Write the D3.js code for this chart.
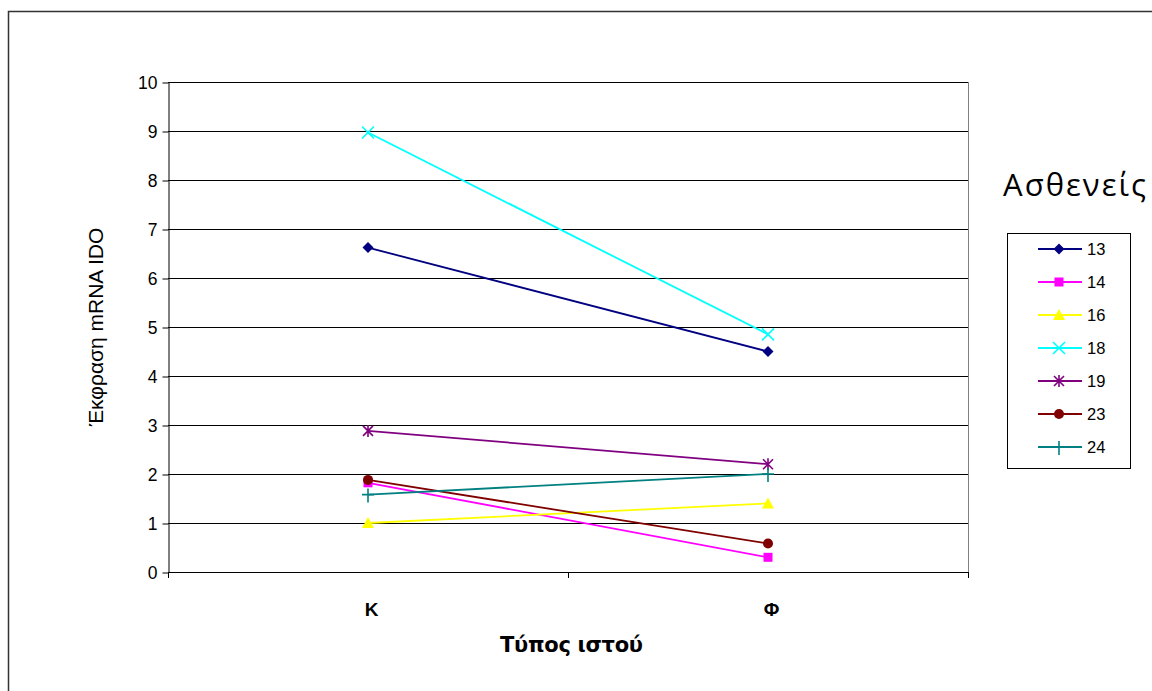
<!DOCTYPE html>
<html><head><meta charset="utf-8">
<script src="https://cdn.jsdelivr.net/npm/d3@7/dist/d3.min.js"></script>
<style>body{margin:0;background:#fff;}svg{display:block;}</style>
</head><body>
<svg id="c" width="1152" height="691"></svg>
<script>
const categories = ["Κ", "Φ"];
const seriesNames = ["13", "14", "16", "18", "19", "23", "24"];
const values13 = [6.62, 4.5];
const values14 = [1.82, 0.3];
const values16 = [1.0, 1.4];
const values18 = [8.97, 4.85];
const values19 = [2.88, 2.2];
const values23 = [1.88, 0.58];
const values24 = [1.58, 2.0];
const yTicks = [0,1,2,3,4,5,6,7,8,9,10];
const colors = ["#000080", "#ff00ff", "#ffff00", "#00ffff", "#800080", "#800000", "#008080"];
const markers = ["diamond", "square", "triangle", "x", "star", "circle", "plus"];
const allValues = [values13, values14, values16, values18, values19, values23, values24];

const svg = d3.select("#c");
// outer frame
svg.append("path").attr("d","M8.5,691 V11.5 H1152").attr("fill","none").attr("stroke","#333").attr("stroke-width",1.5);

const L=168, R=968, T=82, B=572;
const x = d3.scaleBand().domain(categories).range([L,R]);
const y = d3.scaleLinear().domain([0,10]).range([B,T]);

// gridlines
svg.append("g").selectAll("line").data(yTicks.filter(d=>d>0)).join("line")
  .attr("x1",L).attr("x2",R).attr("y1",d=>y(d)+0.5).attr("y2",d=>y(d)+0.5)
  .attr("stroke","#000").attr("stroke-width",1);
// right border of plot area
svg.append("line").attr("x1",R+0.5).attr("x2",R+0.5).attr("y1",T).attr("y2",B).attr("stroke","#808080");

// y axis
const ya = svg.append("g").attr("transform",`translate(${L+0.5},0.5)`)
  .call(d3.axisLeft(y).tickValues(yTicks).tickSize(6).tickPadding(5).tickSizeOuter(0));
ya.select(".domain").attr("stroke","#000");
ya.selectAll("text").attr("font-family","Liberation Sans, Arial, sans-serif").attr("font-size",17.5).attr("fill","#000");

// x axis
const xa = svg.append("g").attr("transform",`translate(0.5,${B+0.5})`)
  .call(d3.axisBottom(x).tickSize(0).tickPadding(30));
xa.select(".domain").attr("stroke","#000").attr("d",`M${L},0H${R}`);
xa.selectAll("text").attr("font-family","Liberation Sans, Arial, sans-serif").attr("font-size",19).attr("font-weight","bold").attr("fill","#000").attr("dx",3);
// x tick marks at band boundaries
svg.append("g").selectAll("line").data([0,1,2]).join("line")
  .attr("x1",i=>L+i*x.bandwidth()+0.5).attr("x2",i=>L+i*x.bandwidth()+0.5)
  .attr("y1",B).attr("y2",B+6).attr("stroke","#000");

// titles
svg.append("text").attr("transform",`translate(103,${(T+B)/2}) rotate(-90)`).attr("text-anchor","middle")
  .attr("font-family","Liberation Sans, Arial, sans-serif").attr("font-size",21).text("Έκφραση mRNA IDO");
svg.append("text").attr("x",500).attr("y",652)
  .attr("font-family","DejaVu Sans, sans-serif").attr("font-size",21).attr("font-weight","bold")
  .attr("textLength",143).attr("lengthAdjust","spacing").text("Τύπος ιστού");

function drawMarker(g, type, color, cx, cy){
  const s = g.append("g").attr("transform",`translate(${cx},${cy})`);
  if(type==="diamond") s.append("path").attr("d","M0,-5.5L5.5,0L0,5.5L-5.5,0Z").attr("fill",color);
  else if(type==="square") s.append("rect").attr("x",-4.5).attr("y",-4.5).attr("width",9).attr("height",9).attr("fill",color);
  else if(type==="triangle") s.append("path").attr("d","M0,-6L6,5L-6,5Z").attr("fill",color);
  else if(type==="circle") s.append("circle").attr("r",5).attr("fill",color);
  else if(type==="x") s.append("path").attr("d","M-6,-6L6,6M-6,6L6,-6").attr("stroke",color).attr("stroke-width",1.6);
  else if(type==="star") s.append("path").attr("d","M-5,-5L5,5M-5,5L5,-5M0,-6V6").attr("stroke",color).attr("stroke-width",1.6);
  else if(type==="plus") s.append("path").attr("d","M-6,0H6M0,-6V8").attr("stroke",color).attr("stroke-width",1.6);
}

const line = d3.line().x((d,i)=>x(categories[i])+x.bandwidth()/2).y(d=>y(d));
allValues.forEach((vals,k)=>{
  const g = svg.append("g");
  g.append("path").datum(vals).attr("d",line).attr("fill","none").attr("stroke",colors[k]).attr("stroke-width",1.8);
  vals.forEach((v,i)=>drawMarker(g, markers[k], colors[k], x(categories[i])+x.bandwidth()/2, y(v)));
});

// legend
svg.append("text").attr("x",1003).attr("y",196).attr("font-family","Open Sans, sans-serif").attr("font-size",31)
  .attr("textLength",143).attr("lengthAdjust","spacing").text("Ασθενείς");
svg.append("rect").attr("x",1007.5).attr("y",233.5).attr("width",123).attr("height",235).attr("fill","none").attr("stroke","#000");
seriesNames.forEach((n,k)=>{
  const yy = 249 + k*33;
  const g = svg.append("g");
  g.append("line").attr("x1",1038).attr("x2",1082).attr("y1",yy).attr("y2",yy).attr("stroke",colors[k]).attr("stroke-width",1.8);
  drawMarker(g, markers[k], colors[k], 1059, yy);
  g.append("text").attr("x",1087).attr("y",yy+6).attr("font-family","Liberation Sans, Arial, sans-serif").attr("font-size",16.5).text(n);
});
</script>
</body></html>
